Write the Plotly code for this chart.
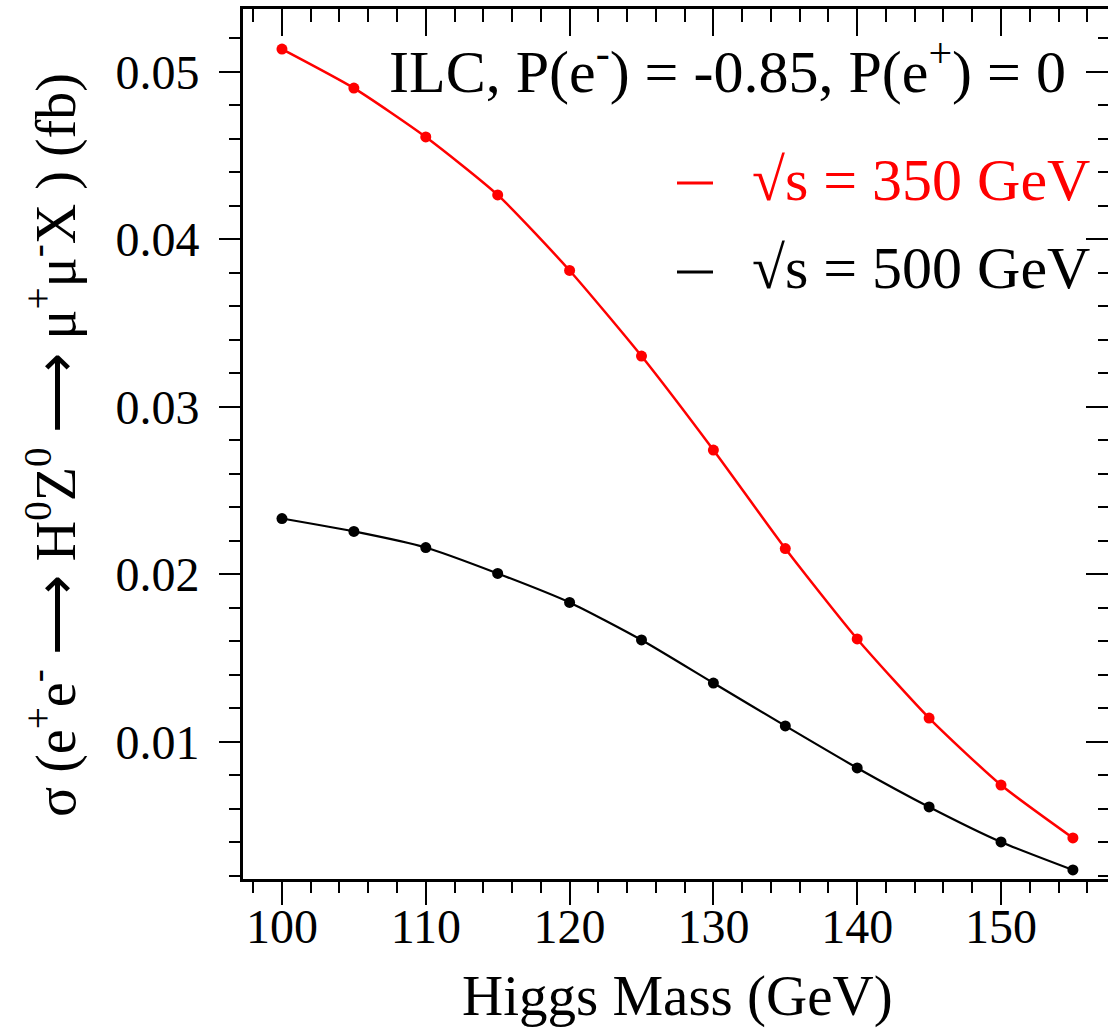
import plotly.graph_objects as go

higgs_mass = [100, 105, 110, 115, 120, 125, 130, 135, 140, 145, 150, 155]
sigma_350 = [0.05137, 0.04904, 0.04612, 0.04266, 0.03815, 0.03304, 0.02743,
             0.02155, 0.01615, 0.01143, 0.00743, 0.00427]
sigma_500 = [0.02334, 0.02257, 0.02161, 0.02006, 0.01833, 0.01609, 0.01352,
             0.01096, 0.00845, 0.00612, 0.00403, 0.00236]
x_ticks = [100, 110, 120, 130, 140, 150]
y_ticks = [0.01, 0.02, 0.03, 0.04, 0.05]
y_tick_labels = ["0.01", "0.02", "0.03", "0.04", "0.05"]

FONT = "Liberation Serif"
XR = [97.29, 157.44]
YR = [0.00182, 0.05376]

fig = go.Figure()
fig.add_trace(go.Scatter(x=higgs_mass, y=sigma_350, mode="lines+markers",
                         line=dict(color="#ff0000", width=2.5, shape="spline", smoothing=0.6),
                         marker=dict(color="#ff0000", size=11), showlegend=False))
fig.add_trace(go.Scatter(x=higgs_mass, y=sigma_500, mode="lines+markers",
                         line=dict(color="black", width=2.2, shape="spline", smoothing=0.6),
                         marker=dict(color="black", size=11), showlegend=False))
# carrier for mirrored axes
fig.add_trace(go.Scatter(x=higgs_mass, y=sigma_500, xaxis="x2", yaxis="y2",
                         mode="markers", marker=dict(opacity=0), hoverinfo="skip",
                         showlegend=False))

fig.update_layout(
    width=1108, height=1032,
    margin=dict(l=243, r=0, t=9, b=153),
    plot_bgcolor="white", paper_bgcolor="white",
    font=dict(family=FONT, color="black"),
    xaxis=dict(range=XR, tickvals=x_ticks, ticks="outside", ticklen=23, tickwidth=2,
               tickcolor="black", showline=True, linewidth=3, linecolor="black",
               showgrid=False, zeroline=False, tickfont=dict(size=48, family=FONT),
               automargin=False, ticklabelstandoff=-20,
               minor=dict(dtick=2, tick0=100, ticks="outside", ticklen=11, tickwidth=2,
                          tickcolor="black", showgrid=False),
               title=dict(text="")),
    yaxis=dict(range=YR, tickvals=y_ticks, ticktext=y_tick_labels, ticks="outside",
               ticklen=21, tickwidth=2, tickcolor="black", showline=True, linewidth=3,
               linecolor="black", showgrid=False, zeroline=False,
               tickfont=dict(size=48, family=FONT), automargin=False,
               ticklabelstandoff=10,
               minor=dict(dtick=0.002, tick0=0, ticks="outside", ticklen=11, tickwidth=2,
                          tickcolor="black", showgrid=False),
               title=dict(text="")),
    xaxis2=dict(range=XR, overlaying="x", side="top", anchor="y", tickvals=x_ticks,
                ticks="inside", ticklen=27, tickwidth=2, tickcolor="black",
                showticklabels=False, showline=True, linewidth=3, linecolor="black",
                showgrid=False, zeroline=False, automargin=False,
                minor=dict(dtick=2, tick0=100, ticks="inside", ticklen=13, tickwidth=2,
                           tickcolor="black", showgrid=False)),
    yaxis2=dict(range=YR, overlaying="y", side="right", anchor="x", tickvals=y_ticks,
                ticks="inside", ticklen=22, tickwidth=2, tickcolor="black",
                showticklabels=False, showline=False, showgrid=False, zeroline=False,
                automargin=False,
                minor=dict(dtick=0.002, tick0=0, ticks="inside", ticklen=10, tickwidth=2,
                           tickcolor="black", showgrid=False)),
)

W, H = 865.0, 870.0  # plot area size in px
def px(xp):
    return (xp - 243) / W
def py(yp):
    return 1 - (yp - 9) / H

# axis titles
fig.add_annotation(x=px(677), y=py(996), xref="paper", yref="paper", xanchor="center",
                   yanchor="middle", showarrow=False, text="Higgs Mass (GeV)",
                   font=dict(size=57, family=FONT, color="black"))
fig.add_annotation(x=px(52), y=py(445), xref="paper", yref="paper", xanchor="center",
                   yanchor="middle", showarrow=False, textangle=-90,
                   text="σ (e<sup>+</sup>e<sup>-</sup> ⟶ H<sup>0</sup>Z<sup>0</sup> ⟶ μ<sup>+</sup>μ<sup>-</sup>X ) (fb)",
                   font=dict(size=56, family=FONT, color="black"))

fig.add_annotation(x=px(1068), y=py(68), xref="paper", yref="paper", xanchor="right",
                   yanchor="middle", showarrow=False,
                   text="ILC, P(e<sup>-</sup>) = -0.85, P(e<sup>+</sup>) = 0",
                   font=dict(size=60, family=FONT, color="black"))
fig.add_annotation(x=px(750), y=py(180), xref="paper", yref="paper", xanchor="left",
                   yanchor="middle", showarrow=False, text="√s = 350 GeV",
                   font=dict(size=60, family=FONT, color="#ff0000"))
fig.add_annotation(x=px(750), y=py(268), xref="paper", yref="paper", xanchor="left",
                   yanchor="middle", showarrow=False, text="√s = 500 GeV",
                   font=dict(size=60, family=FONT, color="black"))
fig.add_shape(type="line", xref="paper", yref="paper", x0=px(677), x1=px(713),
              y0=py(183), y1=py(183), line=dict(color="#ff0000", width=3))
fig.add_shape(type="line", xref="paper", yref="paper", x0=px(677), x1=px(713),
              y0=py(272), y1=py(272), line=dict(color="black", width=3))

fig.write_html("out.html")
